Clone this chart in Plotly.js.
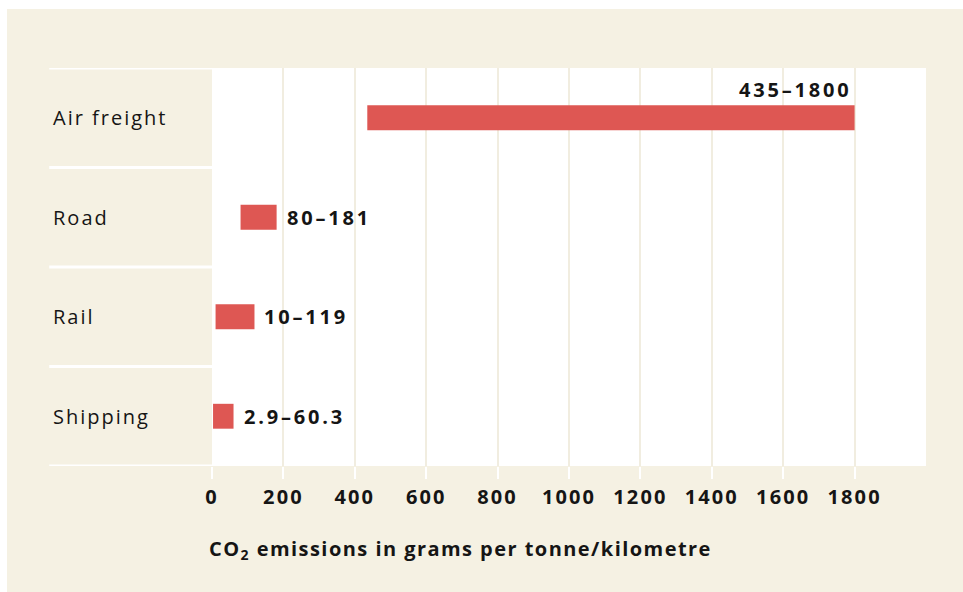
<!DOCTYPE html>
<html>
<head>
<meta charset="utf-8">
<script src="https://cdn.plot.ly/plotly-3.0.1.min.js"></script>
<style>
  html, body { margin: 0; padding: 0; background: #ffffff; }
  #chart { position: absolute; left: 7px; top: 9px; width: 956px; height: 583px; }
  .xtick text { letter-spacing: 2.1px; }
</style>
</head>
<body>
<div id="chart"></div>
<script>
const categories = ["Air freight", "Road", "Rail", "Shipping"];
const lowValues  = [435, 80, 10, 2.9];
const highValues = [1800, 181, 119, 60.3];
const rangeLabels = ["435–1800", "80–181", "10–119", "2.9–60.3"];
const tickValues = [0, 200, 400, 600, 800, 1000, 1200, 1400, 1600, 1800];
const tickLabels = ["0", "200", "400", "600", "800", "1000", "1200", "1400", "1600", "1800"];
const axisTitle = "CO<sub>2</sub> emissions in grams per tonne/kilometre";

const BEIGE = "#f5f1e3";
const BAR = "#de5753";
const TEXT = "#151515";
const FONT = "Open Sans, DejaVu Sans, sans-serif";

function spaced(txt, px, bold) {
  const inner = bold ? "<b>" + txt + "</b>" : txt;
  return '<span style="letter-spacing:' + px + 'px">' + inner + "</span>";
}

const trace = {
  type: "bar",
  orientation: "h",
  y: categories,
  x: highValues.map((h, i) => h - lowValues[i]),
  base: lowValues,
  width: 0.25,
  marker: { color: BAR, line: { width: 0 } },
  hoverinfo: "skip"
};

const annotations = [];
categories.forEach((c, i) => {
  annotations.push({
    xref: "paper", yref: "y", x: -0.2255, y: c,
    xanchor: "left", yanchor: "middle",
    text: spaced(c, 2, false), showarrow: false,
    font: { family: FONT, size: 20, color: TEXT }
  });
  const isTop = i === 0;
  annotations.push({
    xref: "x", yref: "y", x: highValues[i], y: c,
    xanchor: isTop ? "right" : "left", yanchor: "middle",
    xshift: isTop ? -2 : 8, yshift: isTop ? 28 : 0,
    text: spaced(rangeLabels[i], 2.8, true), showarrow: false,
    font: { family: FONT, size: 20, color: TEXT }
  });
});

annotations.push({
  xref: "paper", yref: "paper", x: -0.007, y: -0.209,
  xanchor: "left", yanchor: "middle",
  text: spaced(axisTitle, 1.45, true), showarrow: false,
  font: { family: FONT, size: 20, color: TEXT }
});

const shapes = [];
for (let k = 0; k <= categories.length; k++) {
  shapes.push({
    type: "line", xref: "paper", yref: "y",
    x0: -0.228, x1: 0, y0: k - 0.5, y1: k - 0.5,
    line: { color: "#ffffff", width: 3 }
  });
}

const layout = {
  width: 956, height: 583,
  margin: { l: 205, r: 37, t: 59, b: 126 },
  paper_bgcolor: BEIGE,
  plot_bgcolor: "#ffffff",
  showlegend: false,
  font: { family: FONT, color: TEXT },
  xaxis: {
    range: [0, 2000],
    tickvals: tickValues,
    ticktext: tickLabels,
    ticks: "outside", ticklen: 12, tickwidth: 2, tickcolor: "#ffffff",
    ticklabelstandoff: 1,
    showgrid: true, gridcolor: "#f1ede0", gridwidth: 2,
    zeroline: false, showline: false,
    tickfont: { family: FONT, size: 20, color: TEXT, weight: "bold" },
    fixedrange: true
  },
  yaxis: {
    range: [3.5, -0.5],
    showticklabels: false,
    showgrid: false, zeroline: false, showline: false, ticks: "",
    fixedrange: true
  },
  annotations: annotations,
  shapes: shapes
};

Plotly.newPlot("chart", [trace], layout, { displayModeBar: false, staticPlot: true });
</script>
</body>
</html>
